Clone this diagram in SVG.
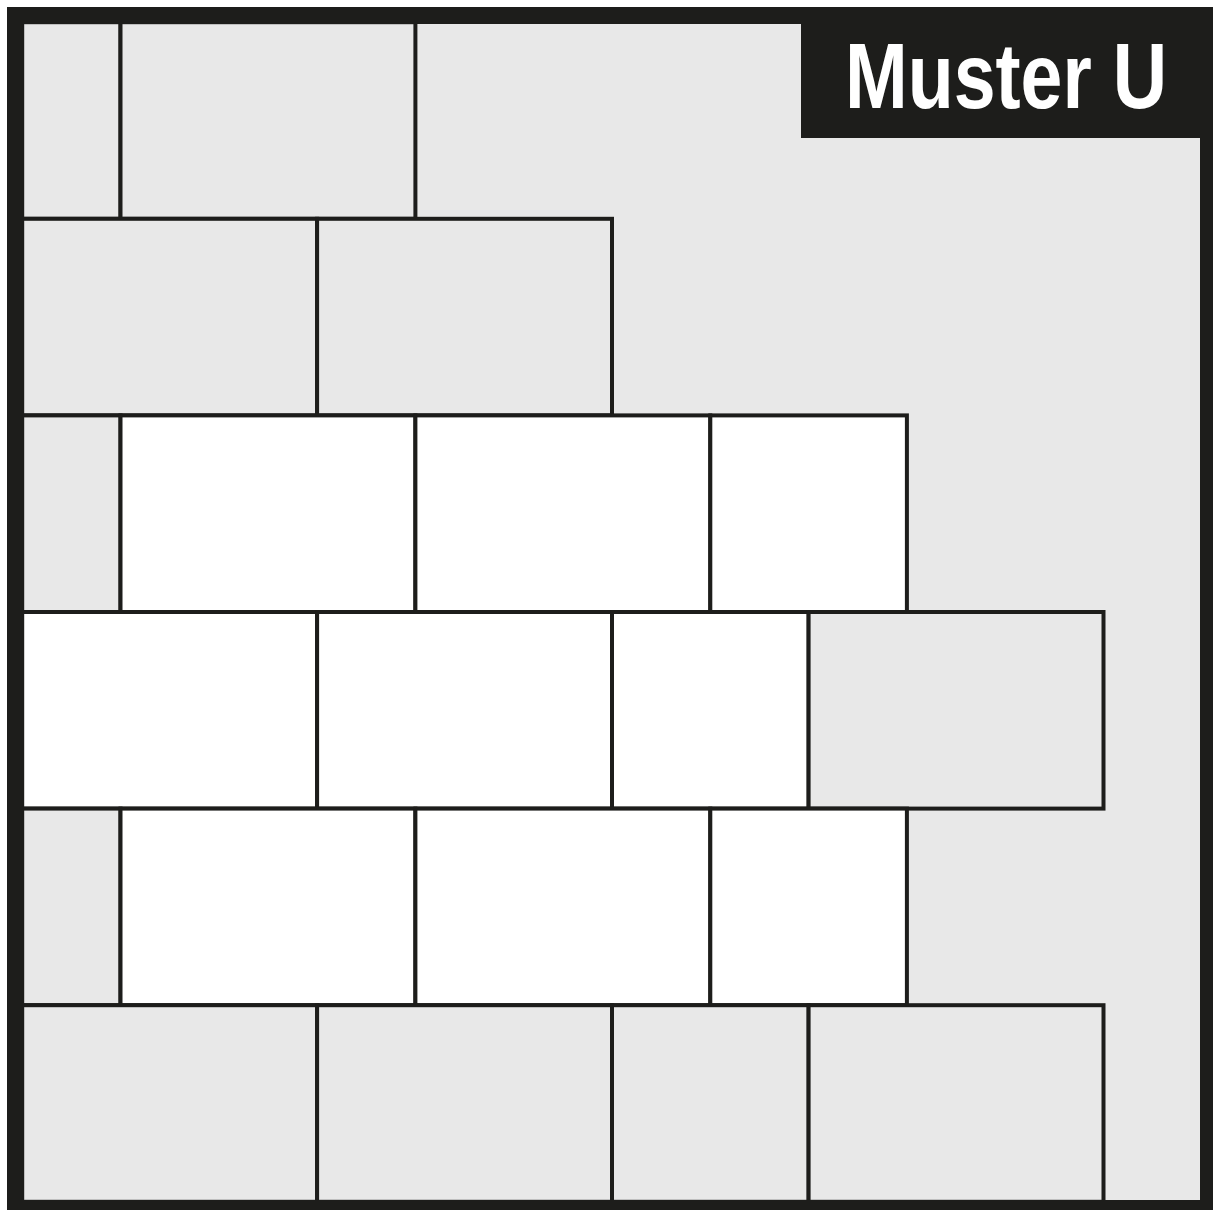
<svg xmlns="http://www.w3.org/2000/svg" width="1213" height="1210" viewBox="0 0 1213 1210">
  <style>
    .g { fill: #e8e8e8; stroke: #1d1d1b; stroke-width: 4; }
    .w { fill: #ffffff; stroke: #1d1d1b; stroke-width: 4; }
    .frame { fill: #1d1d1b; fill-rule: evenodd; }
    .lbl { fill: #ffffff; font-family: "Liberation Sans Narrow", "Liberation Sans", Arial, sans-serif; font-weight: bold; font-size: 92px; }
  </style>
  <rect x="0" y="0" width="1213" height="1210" fill="#ffffff"/>
  <rect x="24" y="24" width="1176" height="1176" fill="#e8e8e8"/>
  <g id="row0">
    <rect class="g" x="22.2" y="22.2" width="98.3" height="196.6"/>
    <rect class="g" x="120.5" y="22.2" width="294.9" height="196.6"/>
  </g>
  <g id="row1">
    <rect class="g" x="22.2" y="218.8" width="294.9" height="196.6"/>
    <rect class="g" x="317.1" y="218.8" width="294.9" height="196.6"/>
  </g>
  <g id="row2">
    <rect class="g" x="22.2" y="415.4" width="98.3" height="196.6"/>
    <rect class="w" x="120.5" y="415.4" width="294.9" height="196.6"/>
    <rect class="w" x="415.4" y="415.4" width="294.9" height="196.6"/>
    <rect class="w" x="710.3" y="415.4" width="196.6" height="196.6"/>
  </g>
  <g id="row3">
    <rect class="w" x="22.2" y="612" width="294.9" height="196.6"/>
    <rect class="w" x="317.1" y="612" width="294.9" height="196.6"/>
    <rect class="w" x="612" y="612" width="196.6" height="196.6"/>
    <rect class="g" x="808.6" y="612" width="294.9" height="196.6"/>
  </g>
  <g id="row4">
    <rect class="g" x="22.2" y="808.6" width="98.3" height="196.6"/>
    <rect class="w" x="120.5" y="808.6" width="294.9" height="196.6"/>
    <rect class="w" x="415.4" y="808.6" width="294.9" height="196.6"/>
    <rect class="w" x="710.3" y="808.6" width="196.6" height="196.6"/>
  </g>
  <g id="row5">
    <rect class="g" x="22.2" y="1005.2" width="294.9" height="196.6"/>
    <rect class="g" x="317.1" y="1005.2" width="294.9" height="196.6"/>
    <rect class="g" x="612" y="1005.2" width="196.6" height="196.6"/>
    <rect class="g" x="808.6" y="1005.2" width="294.9" height="196.6"/>
  </g>
  <g id="frame">
    <path class="frame" d="M7,7 H1213 V1210 H7 Z M24,24 V1200 H1200 V24 Z"/>
  </g>
  <g id="label">
    <rect x="801" y="7" width="412" height="131" fill="#1d1d1b"/>
    <text class="lbl" x="845" y="108" textLength="322" lengthAdjust="spacingAndGlyphs">Muster U</text>
  </g>
  <g id="connectors"/>
</svg>
